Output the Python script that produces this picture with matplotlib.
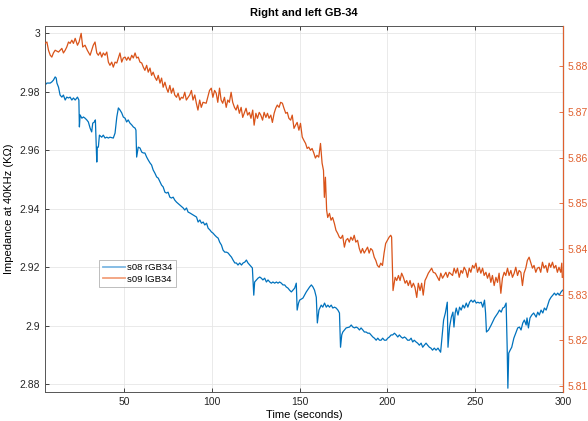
import matplotlib
matplotlib.use('Agg')
import matplotlib.pyplot as plt
from matplotlib.lines import Line2D
from matplotlib.ticker import FuncFormatter


plt.rcParams['font.family'] = ['Liberation Sans', 'DejaVu Sans']

# s08 rGB34 (left axis)
t_right = [
    5.0, 6.1, 7.0, 8.0, 8.9, 9.8, 10.8, 11.4, 11.8, 12.7, 13.6, 14.6, 15.5, 16.5, 17.4,
    18.4, 19.3, 20.3, 21.2, 22.2, 23.5, 24.3, 24.6, 25.0, 26.0, 26.9, 27.8, 28.8, 29.7,
    30.7, 31.6, 32.2, 33.1, 33.7, 34.1, 34.5, 34.8, 35.4, 36.0, 37.3, 38.2, 39.2, 40.2,
    41.1, 42.0, 43.9, 44.9, 45.9, 46.8, 47.7, 48.7, 49.6, 50.6, 51.5, 52.4, 53.4, 54.4,
    55.3, 56.3, 56.8, 57.2, 58.1, 59.1, 60.1, 61.0, 61.9, 62.9, 63.8, 64.8, 65.7, 66.6,
    67.6, 68.6, 69.5, 70.5, 71.4, 72.3, 73.3, 74.2, 75.1, 76.1, 77.0, 78.0, 78.9, 79.9,
    81.8, 83.7, 84.6, 85.6, 86.5, 87.5, 89.4, 91.3, 92.2, 93.2, 94.1, 95.1, 96.0, 97.0,
    97.9, 98.9, 99.8, 100.7, 101.7, 102.7, 103.6, 104.5, 105.5, 106.4, 107.4, 108.4,
    109.3, 110.2, 111.2, 112.1, 113.1, 114.0, 114.9, 115.9, 116.9, 117.8, 118.8, 119.7,
    120.6, 121.6, 122.6, 123.1, 123.9, 124.4, 125.4, 126.3, 127.3, 128.2, 129.1, 130.1,
    131.1, 132.0, 133.0, 133.9, 134.8, 135.8, 136.8, 137.7, 138.6, 139.6, 140.5, 141.5,
    142.4, 143.4, 144.3, 145.3, 146.2, 147.2, 148.1, 148.6, 149.4, 150.0, 151.9, 153.8,
    155.7, 156.7, 157.6, 158.5, 159.5, 160.1, 161.0, 162.3, 163.2, 164.2, 165.2, 166.1,
    167.0, 168.0, 168.9, 169.9, 170.8, 171.8, 172.7, 173.3, 174.0, 174.6, 176.5, 178.4,
    179.4, 180.3, 181.3, 182.2, 183.1, 184.1, 185.0, 186.0, 186.9, 187.9, 188.8, 189.8,
    190.7, 191.7, 192.6, 193.6, 194.5, 195.5, 196.4, 197.3, 198.3, 199.3, 200.2, 201.1,
    202.1, 203.0, 204.0, 205.0, 205.9, 206.8, 207.8, 208.7, 209.7, 210.6, 211.5, 212.5,
    213.5, 214.4, 215.3, 216.3, 217.2, 218.2, 219.2, 220.1, 221.0, 222.0, 222.9, 223.9,
    224.8, 225.7, 226.7, 227.7, 228.8, 230.3, 231.1, 232.0, 233.0, 234.1, 234.5, 235.4,
    236.4, 237.3, 237.9, 238.6, 239.2, 240.2, 241.1, 242.0, 243.0, 243.9, 244.9, 245.8,
    246.8, 247.7, 248.7, 249.6, 250.6, 251.5, 252.4, 253.4, 254.3, 255.3, 255.9, 256.4,
    257.6, 259.1, 261.0, 262.9, 263.8, 264.8, 265.7, 266.6, 267.6, 268.2, 268.6, 269.1,
    269.9, 270.8, 272.0, 273.3, 274.2, 275.2, 276.1, 277.1, 278.0, 279.0, 279.5, 280.3,
    281.2, 282.2, 283.3, 284.7, 285.6, 286.5, 287.5, 288.5, 289.4, 290.4, 291.3, 292.2,
    293.2, 294.2, 295.1, 296.0, 297.0, 297.9, 298.9, 299.8,
]
z_right = [
    2.9822, 2.9829, 2.9829, 2.9829, 2.9833, 2.9839, 2.9850, 2.9846, 2.9829, 2.9815, 2.9788,
    2.9781, 2.9788, 2.9771, 2.9781, 2.9778, 2.9781, 2.9771, 2.9778, 2.9771, 2.9781, 2.9771,
    2.9679, 2.9720, 2.9709, 2.9713, 2.9709, 2.9703, 2.9696, 2.9675, 2.9662, 2.9692, 2.9696,
    2.9703, 2.9634, 2.9559, 2.9610, 2.9610, 2.9651, 2.9644, 2.9651, 2.9641, 2.9644, 2.9641,
    2.9644, 2.9641, 2.9658, 2.9713, 2.9744, 2.9737, 2.9727, 2.9713, 2.9709, 2.9696, 2.9703,
    2.9692, 2.9686, 2.9679, 2.9675, 2.9668, 2.9576, 2.9610, 2.9607, 2.9593, 2.9590, 2.9590,
    2.9576, 2.9566, 2.9556, 2.9549, 2.9532, 2.9521, 2.9508, 2.9504, 2.9491, 2.9480, 2.9474,
    2.9456, 2.9453, 2.9456, 2.9439, 2.9436, 2.9439, 2.9429, 2.9422, 2.9412, 2.9402, 2.9395,
    2.9402, 2.9388, 2.9385, 2.9378, 2.9371, 2.9354, 2.9361, 2.9350, 2.9354, 2.9344, 2.9350,
    2.9333, 2.9327, 2.9320, 2.9316, 2.9309, 2.9303, 2.9299, 2.9285, 2.9275, 2.9258, 2.9251,
    2.9251, 2.9248, 2.9241, 2.9234, 2.9224, 2.9214, 2.9214, 2.9207, 2.9214, 2.9207, 2.9214,
    2.9217, 2.9224, 2.9214, 2.9207, 2.9200, 2.9197, 2.9104, 2.9149, 2.9156, 2.9162, 2.9166,
    2.9162, 2.9156, 2.9162, 2.9149, 2.9156, 2.9149, 2.9145, 2.9149, 2.9145, 2.9149, 2.9145,
    2.9149, 2.9145, 2.9139, 2.9139, 2.9132, 2.9128, 2.9121, 2.9115, 2.9121, 2.9128, 2.9145,
    2.9053, 2.9077, 2.9087, 2.9094, 2.9115, 2.9132, 2.9139, 2.9132, 2.9121, 2.9097, 2.9009,
    2.9053, 2.9070, 2.9063, 2.9077, 2.9063, 2.9070, 2.9063, 2.9070, 2.9060, 2.9063, 2.9060,
    2.9053, 2.9043, 2.8926, 2.8968, 2.8978, 2.8992, 2.8995, 2.9002, 2.8995, 2.8992, 2.8995,
    2.8992, 2.8985, 2.8992, 2.8985, 2.8978, 2.8978, 2.8974, 2.8974, 2.8968, 2.8961, 2.8957,
    2.8950, 2.8957, 2.8950, 2.8950, 2.8957, 2.8950, 2.8950, 2.8957, 2.8961, 2.8968, 2.8968,
    2.8974, 2.8968, 2.8961, 2.8968, 2.8961, 2.8957, 2.8961, 2.8957, 2.8950, 2.8950, 2.8957,
    2.8944, 2.8950, 2.8944, 2.8940, 2.8933, 2.8940, 2.8926, 2.8933, 2.8940, 2.8933, 2.8926,
    2.8923, 2.8916, 2.8923, 2.8916, 2.8923, 2.8909, 2.8961, 2.9019, 2.9043, 2.9080, 2.8926,
    2.8995, 2.9029, 2.9046, 2.8995, 2.9043, 2.9060, 2.9036, 2.9063, 2.9053, 2.9070, 2.9060,
    2.9077, 2.9063, 2.9080, 2.9087, 2.9080, 2.9087, 2.9077, 2.9080, 2.9077, 2.9080, 2.9063,
    2.9087, 2.9043, 2.8978, 2.8985, 2.9002, 2.9026, 2.9043, 2.9053, 2.9046, 2.9060, 2.9063,
    2.9077, 2.8926, 2.8786, 2.8906, 2.8916, 2.8926, 2.8957, 2.8978, 2.8992, 2.8995, 2.8985,
    2.9009, 2.9019, 2.9002, 2.9026, 2.8992, 2.9026, 2.9036, 2.9043, 2.9029, 2.9046, 2.9036,
    2.9053, 2.9043, 2.9060, 2.9053, 2.9070, 2.9087, 2.9097, 2.9104, 2.9111, 2.9104, 2.9111,
    2.9104, 2.9115, 2.9121,
]

# s09 lGB34 (right axis)
t_left = [
    5.0, 6.1, 7.0, 8.0, 8.9, 9.8, 10.8, 12.7, 14.6, 15.5, 16.5, 17.4, 18.4, 19.3, 20.3,
    21.2, 22.2, 23.5, 24.4, 25.6, 26.5, 27.8, 29.1, 30.7, 31.6, 32.5, 33.5, 34.5, 35.4,
    36.4, 37.3, 38.2, 39.2, 40.2, 41.1, 42.0, 43.0, 43.9, 44.9, 45.9, 46.8, 47.7, 48.7,
    49.6, 50.6, 51.5, 52.4, 53.4, 54.4, 55.3, 56.3, 57.2, 58.1, 59.1, 60.1, 61.0, 61.9,
    62.9, 63.8, 64.8, 65.7, 66.6, 67.6, 68.6, 69.5, 70.5, 71.4, 72.3, 73.3, 74.2, 75.1,
    76.1, 77.0, 78.0, 78.9, 79.9, 80.8, 81.8, 82.7, 83.6, 84.6, 85.5, 87.4, 88.4, 89.3,
    90.3, 91.2, 92.1, 93.1, 94.0, 95.0, 96.8, 98.7, 99.7, 100.6, 101.6, 102.5, 103.4,
    104.4, 105.3, 106.2, 107.2, 108.2, 109.1, 110.0, 111.0, 111.9, 112.9, 113.8, 114.7,
    115.7, 116.7, 117.6, 119.5, 120.4, 121.4, 122.3, 123.3, 124.1, 125.1, 126.0, 127.0,
    127.9, 128.9, 129.8, 130.8, 131.7, 132.6, 133.6, 134.5, 135.5, 136.4, 137.3, 138.3,
    139.2, 140.2, 141.1, 142.1, 143.0, 143.9, 144.9, 145.8, 146.8, 147.7, 148.6, 149.6,
    150.5, 151.5, 152.4, 153.4, 154.3, 155.2, 156.2, 157.1, 158.1, 159.0, 159.9, 160.9,
    161.9, 162.8, 163.6, 164.1, 164.7, 165.4, 166.0, 167.0, 167.9, 168.8, 169.8, 170.7,
    171.7, 172.6, 173.5, 174.5, 175.5, 176.4, 177.4, 178.3, 179.2, 180.2, 181.1, 182.0,
    183.0, 184.0, 184.9, 185.8, 186.8, 187.7, 188.7, 189.6, 190.5, 191.5, 192.5, 193.4,
    194.3, 195.3, 196.2, 197.2, 198.1, 199.0, 200.0, 201.0, 201.9, 202.4, 203.2, 204.4,
    205.3, 206.3, 207.2, 208.1, 209.1, 210.1, 211.0, 211.9, 212.9, 213.8, 214.8, 215.7,
    216.7, 217.6, 218.6, 219.5, 220.4, 221.4, 222.3, 223.3, 224.3, 225.2, 226.1, 227.3,
    229.5, 230.4, 231.4, 233.3, 234.2, 235.2, 237.1, 238.0, 239.0, 239.9, 240.9, 241.9,
    242.8, 243.7, 244.7, 245.6, 246.6, 247.5, 248.5, 249.4, 250.4, 251.3, 252.3, 253.2,
    254.2, 255.1, 256.1, 257.0, 258.0, 258.9, 259.8, 260.8, 261.8, 262.7, 263.6, 264.6,
    265.5, 266.5, 267.4, 268.4, 269.3, 270.3, 271.2, 272.2, 273.1, 274.1, 275.0, 276.0,
    276.9, 277.8, 278.8, 279.7, 280.7, 281.7, 282.6, 283.5, 284.5, 285.4, 286.4, 287.3,
    288.3, 289.2, 290.2, 291.1, 292.1, 293.0, 294.0, 294.9, 295.9, 296.8, 297.7, 298.7,
    299.3, 299.6,
]
z_left = [
    5.8850, 5.8853, 5.8835, 5.8824, 5.8820, 5.8829, 5.8835, 5.8831, 5.8839, 5.8829, 5.8835,
    5.8842, 5.8853, 5.8850, 5.8857, 5.8850, 5.8861, 5.8846, 5.8853, 5.8872, 5.8842, 5.8846,
    5.8835, 5.8824, 5.8835, 5.8846, 5.8853, 5.8829, 5.8824, 5.8831, 5.8820, 5.8829, 5.8824,
    5.8831, 5.8809, 5.8802, 5.8809, 5.8798, 5.8809, 5.8807, 5.8818, 5.8829, 5.8809, 5.8818,
    5.8820, 5.8813, 5.8820, 5.8813, 5.8824, 5.8818, 5.8829, 5.8818, 5.8820, 5.8809, 5.8807,
    5.8798, 5.8791, 5.8802, 5.8787, 5.8796, 5.8780, 5.8787, 5.8776, 5.8769, 5.8780, 5.8763,
    5.8774, 5.8754, 5.8765, 5.8752, 5.8743, 5.8758, 5.8741, 5.8752, 5.8737, 5.8732, 5.8741,
    5.8726, 5.8732, 5.8730, 5.8743, 5.8726, 5.8737, 5.8747, 5.8726, 5.8737, 5.8719, 5.8704,
    5.8726, 5.8710, 5.8721, 5.8719, 5.8747, 5.8752, 5.8732, 5.8747, 5.8741, 5.8721, 5.8752,
    5.8726, 5.8719, 5.8732, 5.8710, 5.8726, 5.8721, 5.8743, 5.8721, 5.8710, 5.8704, 5.8715,
    5.8697, 5.8710, 5.8688, 5.8708, 5.8693, 5.8699, 5.8686, 5.8704, 5.8671, 5.8697, 5.8686,
    5.8699, 5.8693, 5.8682, 5.8699, 5.8688, 5.8697, 5.8686, 5.8693, 5.8677, 5.8697, 5.8708,
    5.8715, 5.8710, 5.8721, 5.8719, 5.8708, 5.8697, 5.8699, 5.8686, 5.8682, 5.8693, 5.8664,
    5.8671, 5.8677, 5.8660, 5.8675, 5.8645, 5.8638, 5.8631, 5.8620, 5.8623, 5.8616, 5.8620,
    5.8610, 5.8599, 5.8605, 5.8601, 5.8631, 5.8588, 5.8572, 5.8513, 5.8557, 5.8485, 5.8469,
    5.8478, 5.8463, 5.8469, 5.8456, 5.8441, 5.8434, 5.8426, 5.8423, 5.8430, 5.8404, 5.8419,
    5.8423, 5.8415, 5.8426, 5.8419, 5.8430, 5.8415, 5.8419, 5.8401, 5.8391, 5.8401, 5.8391,
    5.8397, 5.8404, 5.8391, 5.8401, 5.8397, 5.8382, 5.8375, 5.8364, 5.8360, 5.8369, 5.8364,
    5.8391, 5.8412, 5.8419, 5.8426, 5.8430, 5.8426, 5.8309, 5.8338, 5.8331, 5.8342, 5.8331,
    5.8347, 5.8338, 5.8325, 5.8331, 5.8320, 5.8331, 5.8316, 5.8325, 5.8316, 5.8294, 5.8325,
    5.8309, 5.8325, 5.8299, 5.8331, 5.8338, 5.8347, 5.8353, 5.8358, 5.8349, 5.8347, 5.8331,
    5.8347, 5.8336, 5.8349, 5.8338, 5.8349, 5.8342, 5.8358, 5.8347, 5.8358, 5.8338, 5.8353,
    5.8347, 5.8360, 5.8353, 5.8338, 5.8358, 5.8349, 5.8364, 5.8358, 5.8369, 5.8349, 5.8360,
    5.8347, 5.8358, 5.8342, 5.8349, 5.8336, 5.8347, 5.8327, 5.8342, 5.8320, 5.8338, 5.8327,
    5.8347, 5.8303, 5.8336, 5.8349, 5.8342, 5.8358, 5.8342, 5.8353, 5.8338, 5.8347, 5.8360,
    5.8342, 5.8353, 5.8349, 5.8320, 5.8347, 5.8358, 5.8375, 5.8382, 5.8369, 5.8358, 5.8364,
    5.8349, 5.8358, 5.8360, 5.8349, 5.8371, 5.8358, 5.8364, 5.8349, 5.8369, 5.8360, 5.8371,
    5.8358, 5.8364, 5.8349, 5.8360, 5.8349, 5.8369, 5.8338,
]

x_ticks = [50, 100, 150, 200, 250, 300]
left_ticks = [2.88, 2.90, 2.92, 2.94, 2.96, 2.98, 3.00]
right_ticks = [5.81, 5.82, 5.83, 5.84, 5.85, 5.86, 5.87, 5.88]

blue = '#0072BD'
orange = '#D95319'
axis_gray = '#555555'

fig = plt.figure(figsize=(5.88, 4.21), dpi=100)
ax1 = fig.add_axes([0.0765, 0.0689, 0.881, 0.8693])
ax2 = ax1.twinx()

ax1.plot(t_right, z_right, color=blue, linewidth=0.9)
ax2.plot(t_left, z_left, color=orange, linewidth=0.9)

ax1.set_xlim(5, 300)
ax1.set_ylim(2.8773, 3.0024)
ax2.set_ylim(5.8087, 5.8888)

ax1.set_xticks(x_ticks)
ax1.set_yticks(left_ticks)
ax2.set_yticks(right_ticks)
ax1.yaxis.set_major_formatter(FuncFormatter(lambda v, p: f'{v:g}'))
ax2.yaxis.set_major_formatter(FuncFormatter(lambda v, p: f'{v:.2f}'))

ax1.grid(True, color='#e6e6e6', linewidth=0.6)
ax1.tick_params(axis='both', direction='in', length=3, width=0.6,
                labelsize=7.5, colors='#262626', top=True)
ax1.tick_params(axis='y', right=False)
ax2.tick_params(axis='y', direction='in', length=3, width=0.6,
                labelsize=7.5, colors='#E0602E')

for side in ['left', 'bottom', 'top']:
    ax1.spines[side].set_color(axis_gray)
    ax1.spines[side].set_linewidth(0.7)
ax2.spines['right'].set_color('#E0602E')
ax2.spines['right'].set_linewidth(0.8)
for side in ['left', 'bottom', 'top']:
    ax2.spines[side].set_visible(False)

ax1.set_xlabel('Time (seconds)', fontsize=8, labelpad=2)
ax1.set_ylabel('Impedance at 40KHz (KΩ)', fontsize=8, labelpad=4)
ax1.set_title('Right and left GB-34', fontsize=8, fontweight='bold', pad=7)

# legend swatches are drawn lighter, as in the original
handles = [Line2D([], [], color='#7db8e3', linewidth=1.3),
           Line2D([], [], color='#f2a07c', linewidth=1.3)]
leg = ax2.legend(handles, ['s08 rGB34', 's09 lGB34'],
                 loc='lower left', bbox_to_anchor=(0.105, 0.287),
                 fontsize=6.8, frameon=True, fancybox=False,
                 handlelength=2.4, borderpad=0.35, labelspacing=0.3,
                 handletextpad=0.2, borderaxespad=0)
leg.get_frame().set_edgecolor('#a0a0a0')
leg.get_frame().set_linewidth(0.6)

plt.savefig('out.png', dpi=100)
